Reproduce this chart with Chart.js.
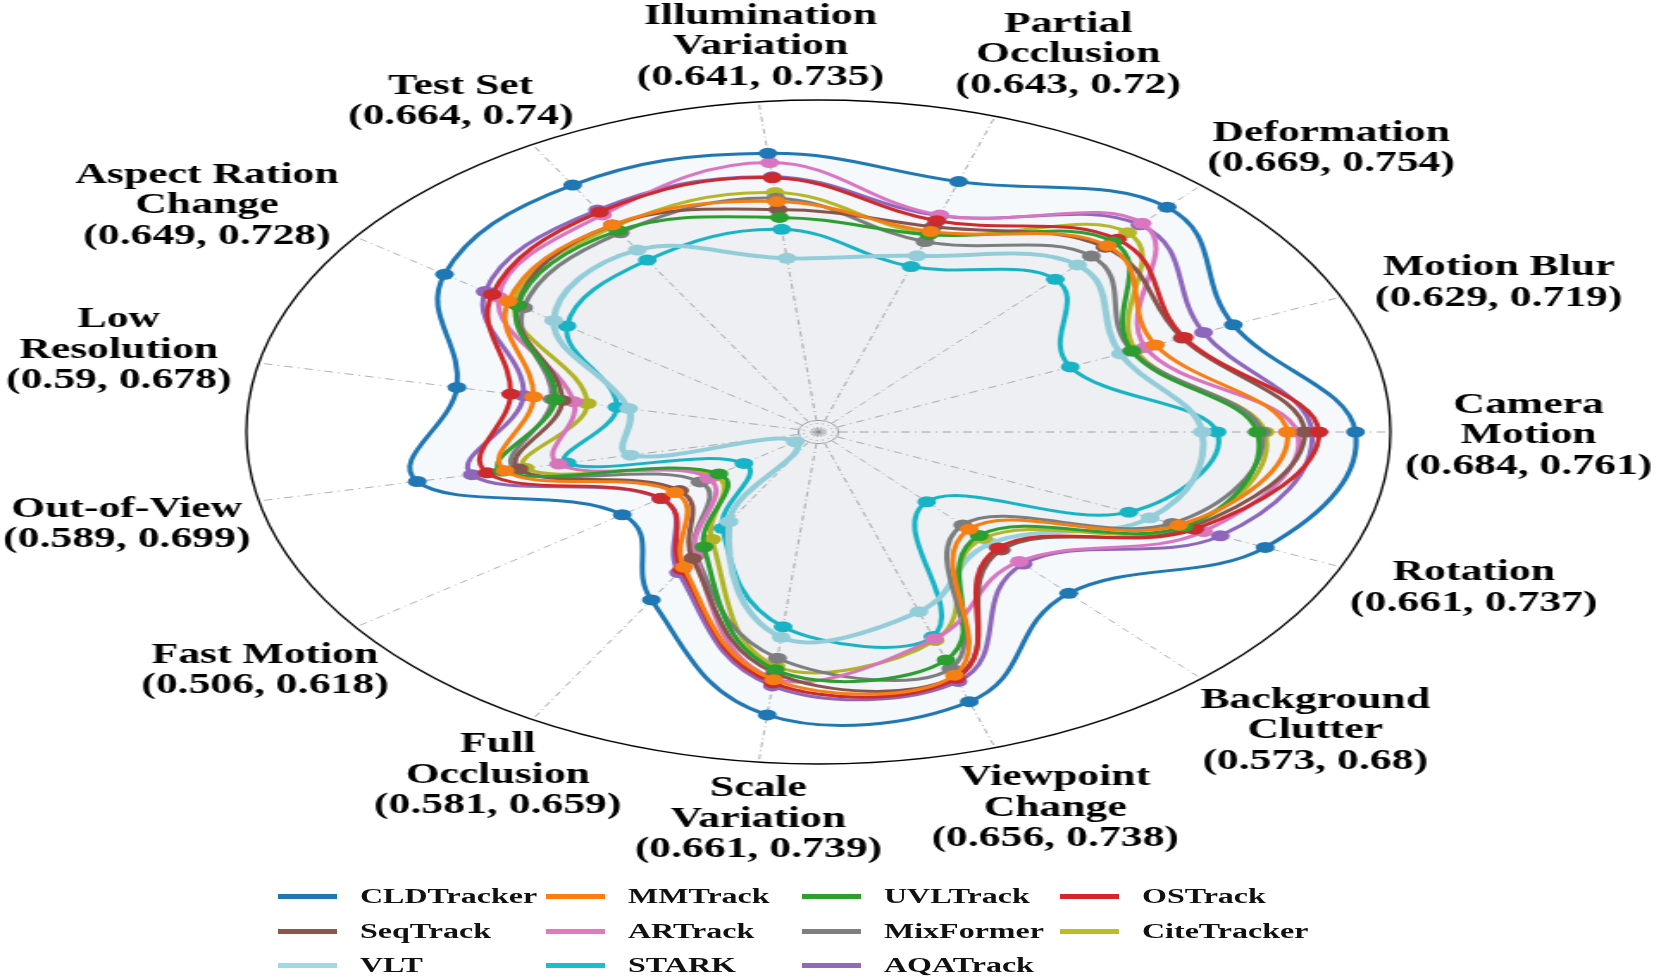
<!DOCTYPE html>
<html>
<head>
<meta charset="utf-8">
<script src="https://cdn.jsdelivr.net/npm/chart.js@4.4.0/dist/chart.umd.min.js"></script>
<style>
  html, body { margin: 0; padding: 0; background: #fff; overflow: hidden; }
  #stage { position: relative; width: 1662px; height: 980px; }
  /* the polar plot of the figure is stretched sideways, so the canvas is too */
  #wrap { position: absolute; left: 0; top: 0; width: 965px; height: 980px;
          transform: scaleX(1.7229); transform-origin: 0 0; }
  .item { position: absolute; height: 0; }
  .item .swatch { position: absolute; left: 0; top: -2.5px; width: 59px; height: 5px; }
  .item .name { position: absolute; left: 82px; top: 0; white-space: nowrap; color: #111;
                font: bold 20px "Liberation Serif", serif;
                transform: translateY(-50%) scaleX(1.6); transform-origin: 0 50%; }
</style>
</head>
<body>
<div id="stage">
  <div id="wrap"><canvas id="radar"></canvas></div>
  <div id="legend"></div>
</div>
<script>
// axes, clockwise from the top
const axisNames = [
    ["Illumination", "Variation", "(0.641, 0.735)"],
    ["Partial", "Occlusion", "(0.643, 0.72)"],
    ["Deformation", "(0.669, 0.754)"],
    ["Motion Blur", "(0.629, 0.719)"],
    ["Camera", "Motion", "(0.684, 0.761)"],
    ["Rotation", "(0.661, 0.737)"],
    ["Background", "Clutter", "(0.573, 0.68)"],
    ["Viewpoint", "Change", "(0.656, 0.738)"],
    ["Scale", "Variation", "(0.661, 0.739)"],
    ["Full", "Occlusion", "(0.581, 0.659)"],
    ["Fast Motion", "(0.506, 0.618)"],
    ["Out-of-View", "(0.589, 0.699)"],
    ["Low", "Resolution", "(0.59, 0.678)"],
    ["Aspect Ration", "Change", "(0.649, 0.728)"],
    ["Test Set", "(0.664, 0.74)"]
];

// normalised radius per axis
const cldTracker  = [0.844, 0.793, 0.911, 0.794, 0.939, 0.855, 0.654, 0.854, 0.857, 0.584, 0.424, 0.717, 0.646, 0.808, 0.859];
const mmTrack     = [0.698, 0.635, 0.755, 0.645, 0.820, 0.690, 0.394, 0.770, 0.750, 0.470, 0.310, 0.560, 0.509, 0.670, 0.720];
const uvlTrack    = [0.650, 0.625, 0.770, 0.600, 0.767, 0.700, 0.420, 0.722, 0.720, 0.400, 0.215, 0.565, 0.470, 0.650, 0.700];
const osTrack     = [0.770, 0.669, 0.781, 0.700, 0.875, 0.720, 0.470, 0.780, 0.760, 0.478, 0.340, 0.592, 0.550, 0.705, 0.765];
const seqTrack    = [0.674, 0.650, 0.749, 0.696, 0.850, 0.710, 0.478, 0.775, 0.730, 0.440, 0.300, 0.535, 0.458, 0.650, 0.720];
const arTrack     = [0.816, 0.687, 0.846, 0.626, 0.837, 0.737, 0.525, 0.655, 0.746, 0.430, 0.237, 0.464, 0.437, 0.691, 0.755];
const mixFormer   = [0.708, 0.603, 0.713, 0.600, 0.775, 0.677, 0.377, 0.749, 0.685, 0.428, 0.256, 0.540, 0.476, 0.637, 0.693];
const citeTracker = [0.725, 0.629, 0.808, 0.607, 0.781, 0.702, 0.431, 0.660, 0.709, 0.373, 0.225, 0.524, 0.413, 0.657, 0.714];
const vlt         = [0.526, 0.558, 0.677, 0.578, 0.671, 0.635, 0.451, 0.569, 0.622, 0.312, 0.050, 0.336, 0.339, 0.572, 0.633];
const stark       = [0.614, 0.524, 0.619, 0.482, 0.697, 0.594, 0.283, 0.648, 0.590, 0.335, 0.161, 0.449, 0.360, 0.543, 0.598];
const aqaTrack    = [0.773, 0.685, 0.840, 0.737, 0.863, 0.769, 0.535, 0.790, 0.769, 0.489, 0.341, 0.619, 0.527, 0.720, 0.772];

const trackerNames = ["CLDTracker", "MMTrack", "UVLTrack", "OSTrack", "SeqTrack", "ARTrack",
                      "MixFormer", "CiteTracker", "VLT", "STARK", "AQATrack"];
const trackerValues = [cldTracker, mmTrack, uvlTrack, osTrack, seqTrack, arTrack,
                       mixFormer, citeTracker, vlt, stark, aqaTrack];
const trackerColors = ["#1f77b4", "#ff7f0e", "#2ca02c", "#d62728", "#8c564b", "#e377c2",
                       "#7f7f7f", "#bcbd22", "#9edae5", "#17becf", "#9467bd"];

const STRETCH = 1.7229;
// small hand nudges (page px) so the axis labels sit where the figure has them
const labelNudge = [[12,1],[43,-8],[65,5],[69,9],[41,4],[44,-2],[49,10],[30,7],
                    [10,1],[14,7],[-12,10],[-37,12],[-45,-1],[-70,2],[-23,6]];

const axisLabelPlugin = {
    id: 'axisLabels',
    afterDraw(chart) {
        const scale = chart.scales.r;
        const ctx = chart.ctx;
        ctx.save();
        ctx.fillStyle = '#000';
        ctx.font = 'bold 29px "Liberation Serif"';
        ctx.textAlign = 'center';
        ctx.textBaseline = 'middle';
        axisNames.forEach((lines, i) => {
            const p = scale.getPointPosition(i, scale.drawingArea * 1.17);
            const cx = p.x + labelNudge[i][0] / STRETCH;
            const cy = p.y + labelNudge[i][1];
            lines.forEach((txt, j) => {
                ctx.save();
                ctx.translate(cx, cy + (j - (lines.length - 1) / 2) * 30.5);
                ctx.scale(0.874, 1);
                ctx.fillText(txt, 0, 0);
                ctx.restore();
            });
        });
        ctx.restore();
    }
};

let datasets = trackerNames.map((name, i) => ({
    label: name,
    data: trackerValues[i],
    borderColor: trackerColors[i],
    backgroundColor: trackerColors[i] + (i === 0 ? "0b" : "02"),
    pointBackgroundColor: trackerColors[i],
    pointBorderColor: trackerColors[i],
    pointBorderWidth: 0,
    pointRadius: 5.5,
    borderWidth: name === "VLT" ? 4 : 3,
    fill: true
}));

new Chart(document.getElementById('radar'), {
    type: 'radar',
    data: { labels: axisNames.map(l => l.join(' ')), datasets: datasets },
    options: {
        responsive: true,
        maintainAspectRatio: false,
        animation: false,
        layout: { padding: { left: 143, right: 158, top: 100, bottom: 216 } },
        elements: { line: { tension: 0.4, capBezierPoints: false } },
        scales: {
            r: {
                min: 0,
                max: 1,
                startAngle: -6,
                afterBuildTicks: (s) => { s.ticks = [{value: 0}, {value: 0.035}, {value: 1}]; },
                ticks: { display: false },
                pointLabels: { display: false },
                grid: {
                    circular: true,
                    color: (c) => (c.tick && c.tick.value === 1) ? '#000' : '#aaa',
                    lineWidth: (c) => (c.tick && c.tick.value === 1) ? 1.3 : 1
                },
                angleLines: { color: '#999', lineWidth: 0.8, borderDash: [5, 3, 1, 3] }
            }
        },
        plugins: {
            legend: { display: false },
            tooltip: { enabled: false }
        }
    },
    plugins: [axisLabelPlugin]
});

// legend, four columns like the figure
const legendCols = [278, 546, 802, 1060];
const legendRows = [896, 931, 965];
let elLegend = document.getElementById('legend');
trackerNames.forEach((name, i) => {
    let item = document.createElement('div');
    item.className = 'item';
    item.style.left = legendCols[i % 4] + 'px';
    item.style.top = legendRows[Math.floor(i / 4)] + 'px';
    let sw = document.createElement('span');
    sw.className = 'swatch';
    sw.style.background = trackerColors[i];
    let tx = document.createElement('span');
    tx.className = 'name';
    tx.textContent = name;
    item.appendChild(sw);
    item.appendChild(tx);
    elLegend.appendChild(item);
});
</script>
</body>
</html>
